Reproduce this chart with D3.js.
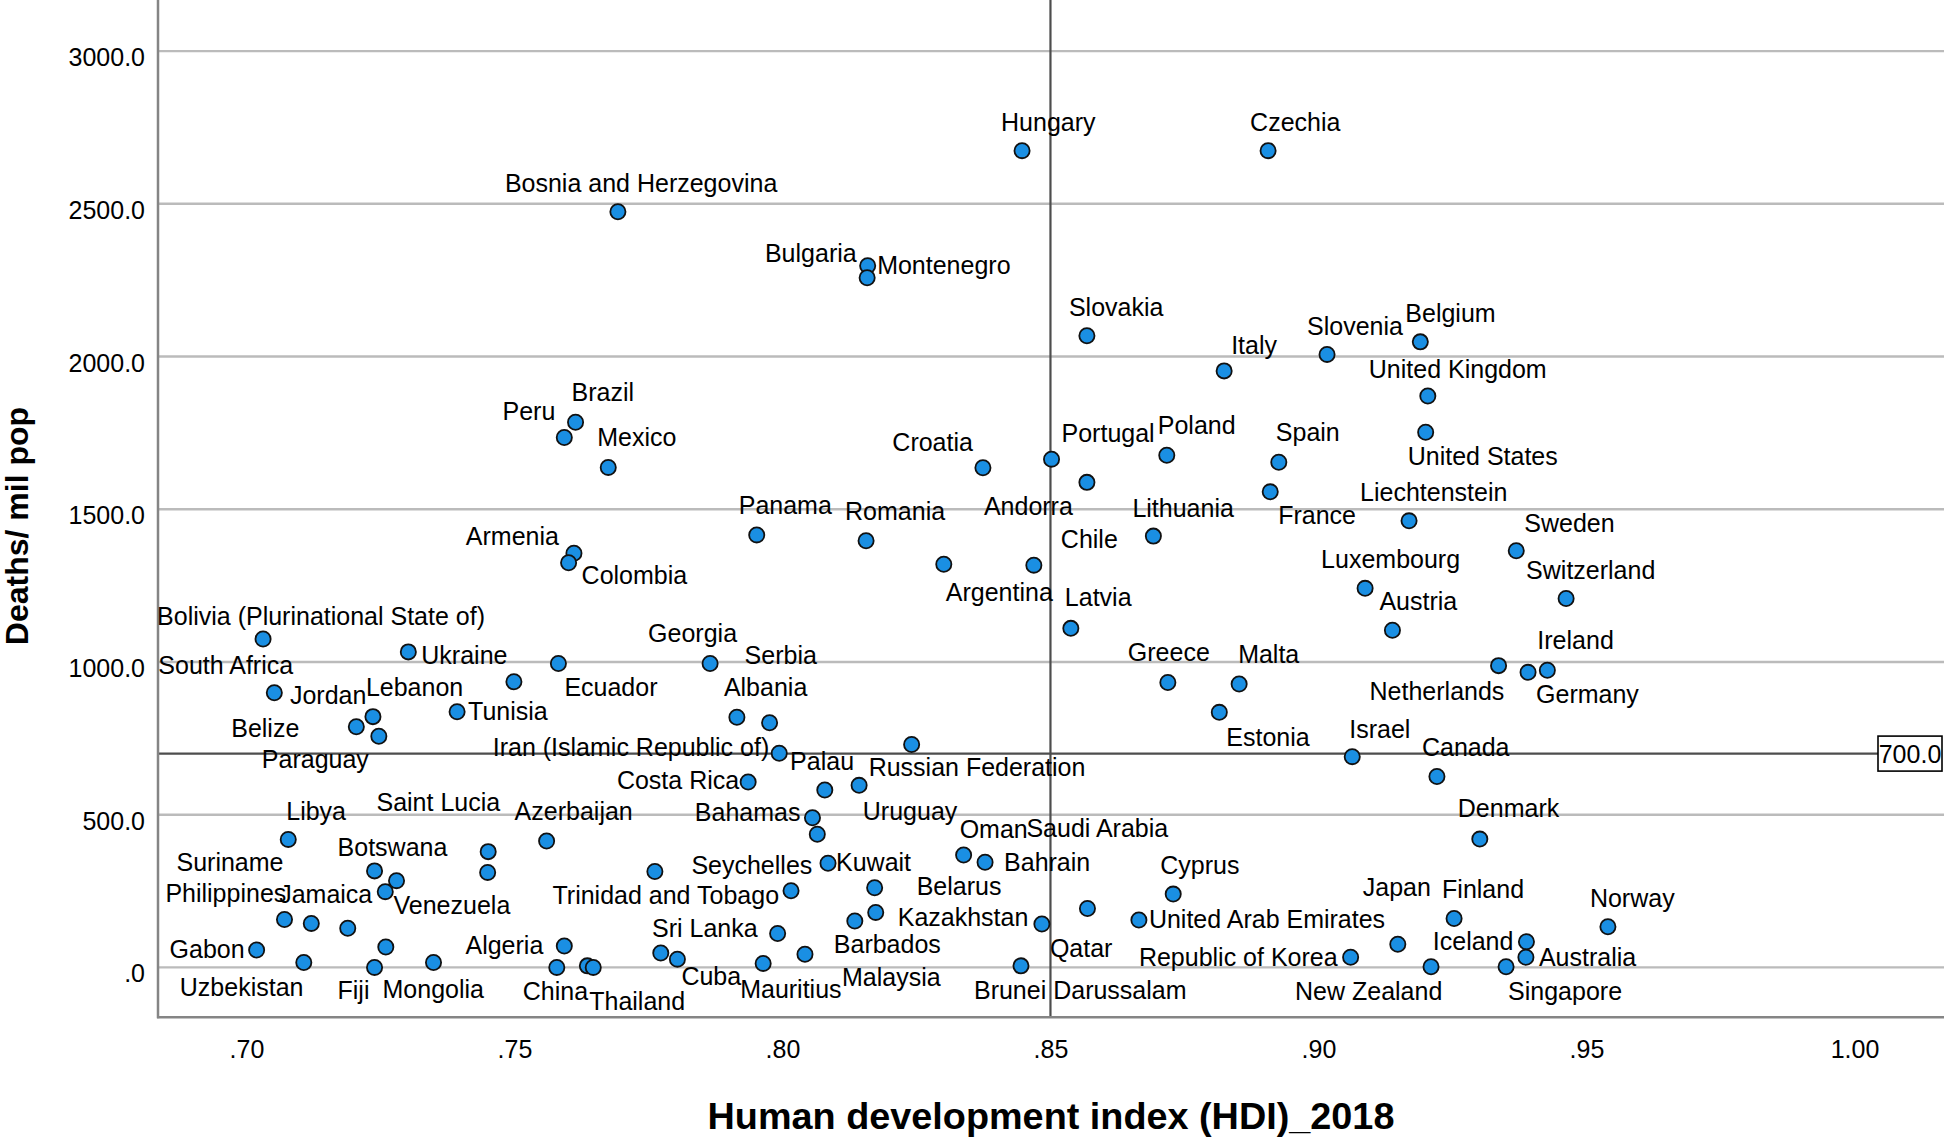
<!DOCTYPE html>
<html><head><meta charset="utf-8">
<script src="https://cdn.jsdelivr.net/npm/d3@7"></script>
<style>
html,body{margin:0;padding:0;background:#fff;}
svg{display:block;}
text{font-family:"Liberation Sans", Arial, sans-serif;fill:#000;}
</style></head><body>
<svg id="chart" width="1944" height="1139"></svg>
<script>
// ---------- data ----------
const countries = ["Bosnia and Herzegovina","Hungary","Czechia","Bulgaria","Montenegro","Slovakia","Italy","Slovenia","Belgium","United Kingdom",
"United States","Brazil","Peru","Mexico","Armenia","Colombia","Bolivia (Plurinational State of)","Ukraine","Ecuador","Lebanon",
"South Africa","Belize","Jordan","Paraguay","Tunisia","Croatia","Portugal","Andorra","Poland","Spain",
"France","Panama","Romania","Lithuania","Argentina","Chile","Latvia","Georgia","Albania","Serbia",
"Iran (Islamic Republic of)","Russian Federation","Greece","Malta","Estonia","Liechtenstein","Sweden","Luxembourg","Switzerland","Austria",
"Netherlands","Germany","Ireland","Israel","Canada","Libya","Azerbaijan","Saint Lucia","","Botswana",
"Venezuela","Jamaica","Suriname","Philippines","","","Gabon","","Algeria","Uzbekistan",
"Fiji","Mongolia","China","","Thailand","","Costa Rica","Uruguay","Palau","Bahamas",
"Seychelles","Oman","Bahrain","Kuwait","Cyprus","Belarus","Trinidad and Tobago","Kazakhstan","Barbados","Qatar",
"Saudi Arabia","United Arab Emirates","Sri Lanka","Cuba","Malaysia","Mauritius","Brunei Darussalam","Denmark","Norway","Finland",
"Japan","Iceland","Australia","Republic of Korea","New Zealand","Singapore"];

const hdi = [0.7693,0.8447,0.8906,0.8159,0.8158,0.8568,0.8824,0.9016,0.9190,0.9204,
0.9200,0.7614,0.7593,0.7675,0.7611,0.7601,0.7031,0.7302,0.7582,0.7499,
0.7052,0.7205,0.7236,0.7247,0.7393,0.8374,0.8502,0.8568,0.8717,0.8926,
0.8910,0.7952,0.8156,0.8692,0.8301,0.8469,0.8538,0.7865,0.7915,0.7976,
0.7994,0.8241,0.8719,0.8852,0.8815,0.9169,0.9369,0.9087,0.9462,0.9138,
0.9336,0.9391,0.9427,0.9063,0.9221,0.7078,0.7560,0.7451,0.7450,0.7239,
0.7280,0.7259,0.7071,0.7121,0.7189,0.7762,0.7019,0.7260,0.7593,0.7107,
0.7239,0.7349,0.7579,0.7636,0.7647,0.7773,0.7936,0.8079,0.8143,0.8056,
0.8065,0.8338,0.8378,0.8085,0.8729,0.8172,0.8016,0.8174,0.8135,0.8484,
0.8569,0.8665,0.7991,0.7804,0.8042,0.7964,0.8445,0.9301,0.9540,0.9253,
0.9148,0.9388,0.9387,0.9060,0.9210,0.9350];

const deaths = [2474,2674,2674,2297,2258,2068,1953,2007,2048,1871,
1752,1785,1735,1637,1356,1325,1075,1033,995,935,
899,788,821,757,837,1636,1664,1588,1677,1654,
1557,1416,1397,1412,1320,1317,1110,995,819,801,
701,730,933,928,835,1462,1364,1241,1208,1104,
988,966,973,690,625,419,414,379,311,316,
284,248,157,144,128,314,57,67,70,16,
0,16,0,5,0,47,607,581,596,490,
436,368,344,341,240,261,251,180,152,142,
193,155,111,27,43,13,5,420,133,160,
76,84,33,33,2,2];

const xTicks = [0.70, 0.75, 0.80, 0.85, 0.90, 0.95, 1.00];
const yTicks = [0, 500, 1000, 1500, 2000, 2500, 3000];
const refHdi = 0.85;
const refDeaths = 700;
const xTitle = "Human development index (HDI)_2018";
const yTitle = "Deaths/ mil pop";

// label placement (pixel offset from the point, text anchor)
const labelPlacement = {
"Bosnia and Herzegovina":[-113,-20,"s"],"Hungary":[-21,-20,"s"],"Czechia":[-18,-20,"s"],"Bulgaria":[-11,-4,"e"],
"Montenegro":[10,-4,"s"],"Slovakia":[-18,-20,"s"],"Italy":[7,-17,"s"],"Slovenia":[-20,-19,"s"],"Belgium":[-15,-20,"s"],
"United Kingdom":[-59,-18,"s"],"United States":[-18,33,"s"],"Brazil":[-4,-21,"s"],"Peru":[-9,-17,"e"],"Mexico":[-11,-21,"s"],
"Armenia":[-15,-8,"e"],"Colombia":[13,21,"s"],"Bolivia (Plurinational State of)":[-106,-14,"s"],"Ukraine":[13,12,"s"],
"Ecuador":[6,33,"s"],"Lebanon":[-148,14,"s"],"South Africa":[-116,-19,"s"],"Belize":[-57,10,"e"],"Jordan":[-83,-13,"s"],
"Paraguay":[-117,32,"s"],"Tunisia":[11,8,"s"],"Croatia":[-10,-17,"e"],"Portugal":[10,-17,"s"],"Andorra":[-103,33,"s"],
"Poland":[-9,-21,"s"],"Spain":[-3,-21,"s"],"France":[8,32,"s"],"Panama":[-18,-21,"s"],"Romania":[-21,-21,"s"],
"Lithuania":[-21,-19,"s"],"Argentina":[2,37,"s"],"Chile":[27,-17,"s"],"Latvia":[-6,-22,"s"],"Georgia":[-62,-21,"s"],
"Albania":[-13,-21,"s"],"Serbia":[-25,-59,"s"],"Iran (Islamic Republic of)":[-10,3,"e"],"Russian Federation":[-43,32,"s"],
"Greece":[-40,-21,"s"],"Malta":[-1,-21,"s"],"Estonia":[7,34,"s"],"Liechtenstein":[-49,-20,"s"],"Sweden":[8,-19,"s"],
"Luxembourg":[-44,-20,"s"],"Switzerland":[-40,-19,"s"],"Austria":[-13,-20,"s"],"Netherlands":[-129,34,"s"],
"Germany":[8,31,"s"],"Ireland":[-10,-21,"s"],"Israel":[-3,-19,"s"],"Canada":[-15,-20,"s"],"Libya":[-2,-19,"s"],
"Azerbaijan":[-32,-21,"s"],"Saint Lucia":[12,-41,"e"],"Botswana":[-37,-15,"s"],"Venezuela":[-3,33,"s"],
"Jamaica":[-13,11,"e"],"Suriname":[-1,-48,"e"],"Philippines":[-25,-21,"e"],"Gabon":[-12,8,"e"],"Algeria":[-21,8,"e"],
"Uzbekistan":[-124,33,"s"],"Fiji":[-37,32,"s"],"Mongolia":[-51,35,"s"],"China":[-34,33,"s"],"Thailand":[-4,43,"s"],
"Costa Rica":[-9,7,"e"],"Uruguay":[38,30,"s"],"Palau":[-69,-15,"s"],"Bahamas":[-12,3,"e"],"Seychelles":[-5,40,"e"],
"Oman":[-4,-17,"s"],"Bahrain":[19,9,"s"],"Kuwait":[8,8,"s"],"Cyprus":[-13,-20,"s"],"Belarus":[42,7,"s"],
"Trinidad and Tobago":[-12,13,"e"],"Kazakhstan":[22,14,"s"],"Barbados":[-21,32,"s"],"Qatar":[8,33,"s"],
"Saudi Arabia":[-61,-71,"s"],"United Arab Emirates":[10,8,"s"],"Sri Lanka":[-20,4,"e"],"Cuba":[4,26,"s"],
"Malaysia":[37,32,"s"],"Mauritius":[-23,35,"s"],"Brunei Darussalam":[-47,33,"s"],"Denmark":[-22,-22,"s"],
"Norway":[-18,-20,"s"],"Finland":[-12,-21,"s"],"Japan":[-35,-48,"s"],"Iceland":[-13,8,"e"],"Australia":[13,9,"s"],
"Republic of Korea":[-13,9,"e"],"New Zealand":[-136,33,"s"],"Singapore":[2,33,"s"]
};

// ---------- layout ----------
const plot = {left:158, right:1944, top:0, bottom:1017.3};
const svg = d3.select("#chart");

const x = d3.scaleLinear().domain([0.6835, 1.0167]).range([plot.left, plot.right]);
const y = d3.scaleLinear().domain([-163.4, 3167.3]).range([plot.bottom, plot.top]);

const FONT = 25;

// gridlines
svg.append("g").selectAll("line").data(yTicks).join("line")
  .attr("x1", plot.left).attr("x2", plot.right)
  .attr("y1", d => y(d)).attr("y2", d => y(d))
  .attr("stroke", "#bbbbbb").attr("stroke-width", 2.4);

// reference lines
const boxW = 66;
svg.append("line")
  .attr("x1", x(refHdi)).attr("x2", x(refHdi))
  .attr("y1", plot.top).attr("y2", plot.bottom)
  .attr("stroke", "#4d4d4d").attr("stroke-width", 2.2);
svg.append("line")
  .attr("x1", plot.left).attr("x2", plot.right - boxW)
  .attr("y1", y(refDeaths)).attr("y2", y(refDeaths))
  .attr("stroke", "#4d4d4d").attr("stroke-width", 2.2);

// axes
const fmtX = d => d3.format(".2f")(d).replace(/^0\./, ".");
const fmtY = d => d3.format(".1f")(d).replace(/^0\./, ".");

const gx = svg.append("g").attr("transform", `translate(0,${plot.bottom})`)
  .call(d3.axisBottom(x).tickValues(xTicks).tickFormat(fmtX).tickSize(0).tickPadding(23));
gx.select(".domain").remove();
gx.selectAll("text").attr("font-size", FONT).attr("font-family", "Liberation Sans, Arial, sans-serif").attr("fill", "#000");

const gy = svg.append("g").attr("transform", `translate(${plot.left},0)`)
  .call(d3.axisLeft(y).tickValues(yTicks).tickFormat(fmtY).tickSize(0).tickPadding(13));
gy.select(".domain").remove();
gy.selectAll("text").attr("font-size", FONT).attr("dy", "0.58em").attr("font-family", "Liberation Sans, Arial, sans-serif").attr("fill", "#000");

// axis lines
svg.append("line").attr("x1", plot.left).attr("x2", plot.left).attr("y1", plot.top).attr("y2", plot.bottom + 1)
  .attr("stroke", "#858585").attr("stroke-width", 2.5);
svg.append("line").attr("x1", plot.left - 1).attr("x2", plot.right).attr("y1", plot.bottom).attr("y2", plot.bottom)
  .attr("stroke", "#858585").attr("stroke-width", 2.5);

// points
const pts = countries.map((c, i) => ({name: c, hdi: hdi[i], deaths: deaths[i]}));
svg.append("g").selectAll("circle").data(pts).join("circle")
  .attr("cx", d => x(d.hdi)).attr("cy", d => y(d.deaths)).attr("r", 7.6)
  .attr("fill", "#1a8fe3").attr("stroke", "#111").attr("stroke-width", 1.8);

// labels
const anchorMap = {s: "start", e: "end", m: "middle"};
svg.append("g").selectAll("text").data(pts.filter(d => d.name && labelPlacement[d.name])).join("text")
  .attr("x", d => x(d.hdi) + labelPlacement[d.name][0])
  .attr("y", d => y(d.deaths) + labelPlacement[d.name][1])
  .attr("text-anchor", d => anchorMap[labelPlacement[d.name][2]])
  .attr("font-size", FONT)
  .text(d => d.name);

// reference value box
const boxY = y(refDeaths);
svg.append("rect").attr("x", plot.right - boxW).attr("y", boxY - 17.5).attr("width", boxW - 2).attr("height", 35)
  .attr("fill", "#fff").attr("stroke", "#000").attr("stroke-width", 1.6);
svg.append("text").attr("x", plot.right - boxW / 2 - 1).attr("y", boxY + 9.5).attr("text-anchor", "middle")
  .attr("font-size", FONT).text(d3.format(".1f")(refDeaths));

// titles
svg.append("text").attr("x", (plot.left + plot.right) / 2).attr("y", 1129)
  .attr("text-anchor", "middle").attr("font-size", 37.8).attr("font-weight", "bold").text(xTitle);
svg.append("text").attr("transform", "translate(28,526) rotate(-90)")
  .attr("text-anchor", "middle").attr("font-size", 32).attr("font-weight", "bold").text(yTitle);
</script>
</body></html>
